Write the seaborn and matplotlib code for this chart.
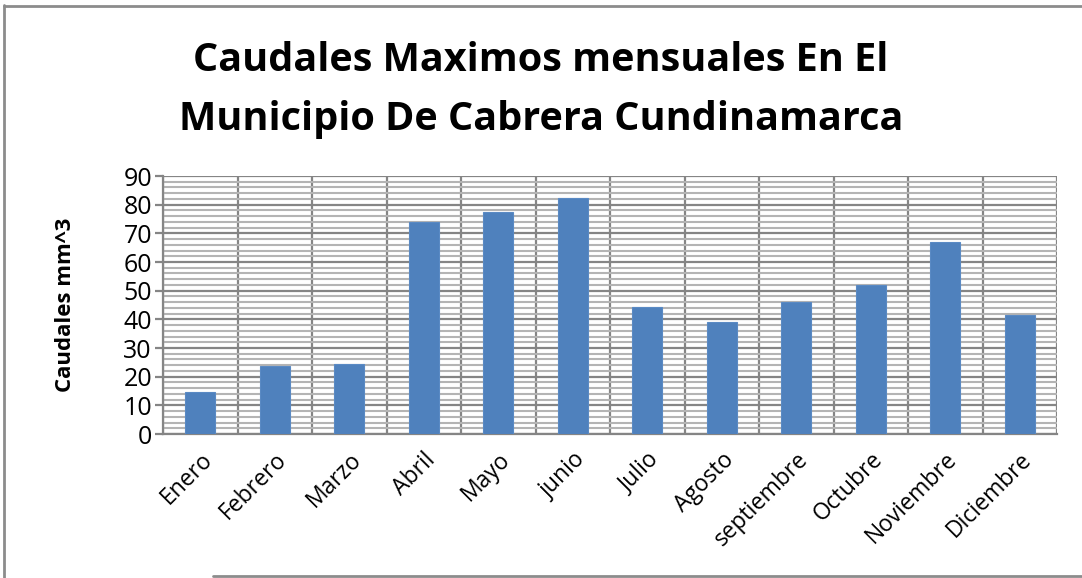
import numpy as np
import pandas as pd
import matplotlib
matplotlib.use('Agg')
import matplotlib.pyplot as plt
import seaborn as sns
from matplotlib.lines import Line2D

# caudales maximos por mes
meses = ['Enero', 'Febrero', 'Marzo', 'Abril', 'Mayo', 'junio', 'Julio',
         'Agosto', 'septiembre', 'Octubre', 'Noviembre', 'Diciembre']
caudales = [14.7, 23.6, 24.4, 73.8, 77.6, 82.4, 44.2, 39.1, 45.9, 52.0, 66.9, 41.4]

titulo = 'Caudales Maximos mensuales En El\nMunicipio De Cabrera Cundinamarca'
etiqueta_y = 'Caudales mm^3'

sns.set_theme(style='white')
plt.rcParams['font.family'] = ['Open Sans', 'DejaVu Sans']
plt.rcParams['text.color'] = 'black'
plt.rcParams['xtick.color'] = 'black'
plt.rcParams['ytick.color'] = 'black'
plt.rcParams['axes.labelcolor'] = 'black'

W, H = 1082, 578
fig = plt.figure(figsize=(W / 100, H / 100), dpi=100)
ax = fig.add_axes([163 / W, 1 - 434 / H, (1057 - 163) / W, (434 - 176) / H])

data = pd.DataFrame({'mes': meses, 'caudal': caudales})
sns.barplot(data=data, x='mes', y='caudal', color='#4F81BD', saturation=1,
            width=0.4, ax=ax, zorder=3, edgecolor='#5a8ac4', linewidth=0.8)

ax.set_ylim(0, 90)
ax.set_xlim(-0.5, len(meses) - 0.5)
ax.set_yticks(np.arange(0, 91, 10))
ax.set_yticks(np.arange(0, 91, 2), minor=True)
ax.set_xticks(np.arange(-0.5, len(meses), 1), minor=True)

ax.yaxis.grid(True, which='minor', color='#b4b4b4', linewidth=1.5, zorder=0)
ax.yaxis.grid(True, which='major', color='#858585', linewidth=1.6, zorder=1)
ax.xaxis.grid(True, which='minor', color='#858585', linewidth=1.6, zorder=1)
ax.set_axisbelow(True)

for s in ['top', 'right']:
    ax.spines[s].set_visible(False)
for s in ['left', 'bottom']:
    ax.spines[s].set_color('#858585')
    ax.spines[s].set_linewidth(1.6)

ax.tick_params(axis='y', which='major', left=True, length=6, width=1.6,
               color='#858585', labelcolor='black', labelsize=18, pad=2)
ax.tick_params(axis='y', which='minor', left=False)
ax.tick_params(axis='x', which='both', bottom=False, labelcolor='black',
               labelsize=16.5, pad=4)
for lbl in ax.get_xticklabels():
    lbl.set_rotation(45)
    lbl.set_ha('right')
    lbl.set_rotation_mode('anchor')

ax.set_xlabel('')
ax.set_ylabel(etiqueta_y, fontsize=16, fontweight='bold', labelpad=34)

fig.text(0.5, 1 - 90 / H, titulo, ha='center', va='center', fontsize=28.5,
         fontweight='bold', linespacing=1.65)

# bordes del area del grafico
fig.add_artist(Line2D([4 / W, 4 / W], [0, 1 - 5 / H], transform=fig.transFigure,
                      color='#8c8c8c', linewidth=2))
fig.add_artist(Line2D([4 / W, 1], [1 - 6 / H, 1 - 6 / H], transform=fig.transFigure,
                      color='#8c8c8c', linewidth=2))
fig.add_artist(Line2D([213 / W, 1], [1 - 576 / H, 1 - 576 / H], transform=fig.transFigure,
                      color='#8c8c8c', linewidth=2))

fig.savefig('out.png', dpi=100)
